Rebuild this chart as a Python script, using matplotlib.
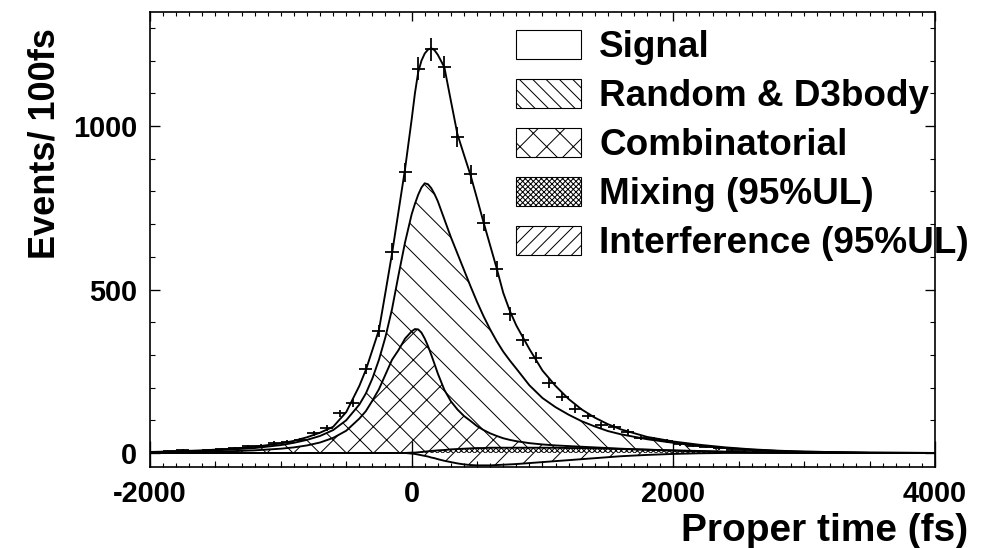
import matplotlib
matplotlib.use("Agg")
import matplotlib.pyplot as plt
import numpy as np
from matplotlib.patches import Patch
from matplotlib.ticker import MultipleLocator

plt.rcParams['font.family'] = ['Liberation Sans', 'DejaVu Sans']
plt.rcParams['font.weight'] = 'bold'
plt.rcParams['axes.labelweight'] = 'bold'
plt.rcParams['axes.unicode_minus'] = False
plt.rcParams['hatch.linewidth'] = 0.9

# measured data: bin centres (fs) and events per 100 fs
t_data = [-1950, -1850, -1750, -1650, -1550, -1450, -1350, -1250, -1150, -1050,
          -950, -850, -750, -650, -550, -450, -350, -250, -150, -50,
          50, 150, 250, 350, 450, 550, 650, 750, 850, 950,
          1050, 1150, 1250, 1350, 1450, 1550, 1650, 1750, 1850, 1950,
          2050, 2150, 2250, 2350, 2450, 2550, 2650, 2750, 2850, 2950]
events = [3, 5, 8, 7, 10, 13, 15, 21, 22, 30,
          35, 40, 60, 76, 121, 152, 257, 373, 616, 858,
          1176, 1235, 1180, 967, 852, 705, 563, 425, 346, 291,
          214, 171, 135, 113, 86, 80, 64, 46, 43, 37,
          28, 22, 18, 14, 10, 8, 6, 4, 3, 2]

# fit components (stacked)
t_fit = [-2000, -1800, -1600, -1400, -1200, -1000, -900, -800, -700, -600, -500,
         -400, -350, -300, -250, -200, -150, -100, -50,
         0, 25, 50, 75, 100, 125, 150, 175, 200,
         250, 300, 350, 400, 450, 500, 550, 600, 650, 700, 750, 800,
         900, 1000, 1100, 1200, 1300, 1400, 1500, 1600,
         1800, 2000, 2200, 2400, 2600, 2800, 3000, 3500, 4000]
total = [3, 5, 8, 12, 19, 29, 37, 48, 62, 80, 125,
         205, 254, 315, 376, 492, 610, 740, 870,
         1020, 1100, 1165, 1200, 1222, 1234, 1238, 1232, 1218,
         1180, 1077, 975, 912, 850, 778, 705, 635, 565, 490, 435, 390,
         318, 252, 205, 165, 133, 108, 88, 72,
         49, 35, 25, 17, 11, 7, 4, 1, 0]
random_d3 = [2, 4, 6, 10, 15, 24, 31, 40, 52, 70, 100,
             148, 182, 228, 285, 355, 440, 545, 645,
             730, 762, 790, 812, 825, 822, 810, 792, 770,
             715, 660, 610, 560, 510, 462, 418, 378, 342, 310, 283, 258,
             207, 168, 140, 117, 97, 81, 67, 57,
             42, 31, 22, 15, 10, 6, 4, 1, 0]
combinatorial = [1, 2, 3, 5, 8, 13, 17, 23, 32, 46, 68,
                 105, 128, 160, 195, 240, 285, 315, 350,
                 372, 379, 378, 368, 350, 327, 300, 272, 243,
                 193, 158, 133, 113, 98, 82, 70, 60, 52, 45, 40, 36,
                 30, 26, 23, 21, 19, 17, 15, 13,
                 10, 7, 5, 3, 2, 1, 1, 0, 0]
mixing = [0, 0, 0, 0, 0, 0, 0, 0, 0, 0, 0,
          0, 0, 0, 0, 0, 0, 0, 0,
          1, 1, 2, 3, 4, 5, 6, 7, 8,
          9, 11, 12, 13, 14, 15, 15, 16, 16, 16, 16, 16,
          16, 16, 16, 15, 15, 14, 13, 12,
          10, 8, 6, 4, 2, 1, 0, 0, 0]
interference = [0, 0, 0, 0, 0, 0, 0, 0, 0, 0, 0,
                0, 0, 0, 0, 0, 0, 0, 0,
                -2, -3, -5, -7, -9, -11, -14, -16, -19,
                -24, -28, -32, -35, -37, -38, -38, -38, -37, -36, -35, -34,
                -31, -28, -25, -22, -19, -16, -13, -10,
                -6, -3, -1, 0, 0, 0, 0, 0, 0]

fig = plt.figure(figsize=(12.4, 6.85), dpi=80)
ax = fig.add_axes([0.1512, 0.1478, 0.7913, 0.8303])

ax.fill_between(t_fit, interference, 0, facecolor='none', edgecolor='black', hatch='/', lw=0)
ax.fill_between(t_fit, 0, mixing, facecolor='white', edgecolor='black', hatch='xxxxx', lw=0)
ax.fill_between(t_fit, mixing, combinatorial, facecolor='none', edgecolor='black', hatch='x', lw=0)
ax.fill_between(t_fit, combinatorial, random_d3, facecolor='none', edgecolor='black', hatch='\\', lw=0)

for curve in [interference, mixing, combinatorial, random_d3, total]:
    ax.plot(t_fit, curve, color='black', lw=1.7)

ax.errorbar(t_data, events, xerr=50, yerr=np.sqrt(events), fmt='none',
            ecolor='black', elinewidth=1.6, capsize=0, zorder=5)

ax.set_xlim(-2000, 4000)
ax.set_ylim(-43, 1349)

# ticks: bottom / left with labels
ax.xaxis.set_major_locator(MultipleLocator(2000))
ax.xaxis.set_minor_locator(MultipleLocator(100))
ax.yaxis.set_major_locator(MultipleLocator(500))
ax.yaxis.set_minor_locator(MultipleLocator(100))
ax.tick_params(axis='x', which='major', direction='in', length=23, width=1.2, labelsize=26, pad=12)
ax.tick_params(axis='x', which='minor', direction='in', length=3.5, width=1.0)
ax.tick_params(axis='y', which='major', direction='in', length=9, width=1.2, labelsize=26, pad=11.5,
               right=True)
ax.tick_params(axis='y', which='minor', direction='in', length=4.5, width=1.0, right=True)

# medium ticks every 500 fs at the bottom
mid = ax.secondary_xaxis('bottom')
mid.xaxis.set_major_locator(MultipleLocator(500))
mid.tick_params(direction='in', length=5.5, width=1.0, labelbottom=False)
mid.spines['bottom'].set_visible(False)

top = ax.secondary_xaxis('top')
top.xaxis.set_major_locator(MultipleLocator(2000))
top.xaxis.set_minor_locator(MultipleLocator(100))
top.tick_params(which='major', direction='in', length=8, width=1.2, labeltop=False)
top.tick_params(which='minor', direction='in', length=3.5, width=1.0)
top.spines['top'].set_visible(False)

for s in ax.spines.values():
    s.set_linewidth(1.5)

ax.set_xlabel('Proper time (fs)', fontsize=35, loc='right')
ax.xaxis.set_label_coords(1.042, -0.101)
ax.set_ylabel('Events/ 100fs', fontsize=32.5, loc='top')
ax.yaxis.set_label_coords(-0.111, 0.965)

handles = [Patch(facecolor='white', edgecolor='black', lw=1),
           Patch(facecolor='white', edgecolor='black', hatch='\\\\', lw=1),
           Patch(facecolor='white', edgecolor='black', hatch='x', lw=1),
           Patch(facecolor='white', edgecolor='black', hatch='xxxxx', lw=1),
           Patch(facecolor='white', edgecolor='black', hatch='//', lw=1)]
labels = ['Signal', 'Random & D3body', 'Combinatorial', 'Mixing (95%UL)', 'Interference (95%UL)']
ax.legend(handles, labels, loc='upper left', bbox_to_anchor=(0.466, 0.9615), frameon=False,
          fontsize=33.2, handlelength=1.78, handleheight=0.84, labelspacing=0.37,
          handletextpad=0.48, borderpad=0, borderaxespad=0)

fig.savefig('out.png', dpi=80)
